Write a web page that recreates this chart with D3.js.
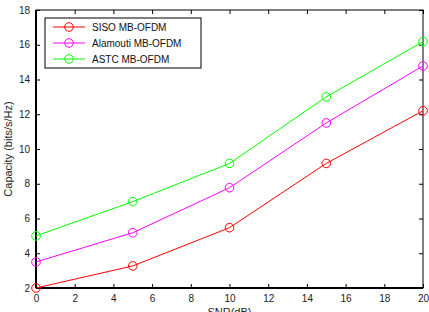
<!DOCTYPE html>
<html>
<head>
<script src="https://d3js.org/d3.v7.min.js"></script>
<style>
  body { margin: 0; background: #fff; }
  svg text { font-family: "Liberation Sans", Arial, sans-serif; }
</style>
</head>
<body>
<svg id="chart" width="429" height="312"></svg>
<script>
const snr = [0, 5, 10, 15, 20];
const sisoCap = [2.0, 3.27, 5.47, 9.17, 12.2];
const alamoutiCap = [3.5, 5.18, 7.77, 11.5, 14.78];
const astcCap = [5.0, 6.97, 9.17, 13.0, 16.18];
const seriesNames = ["SISO MB-OFDM", "Alamouti MB-OFDM", "ASTC MB-OFDM"];
const seriesColors = ["#ff0000", "#ff00ff", "#00ff00"];
const xTicks = [0, 2, 4, 6, 8, 10, 12, 14, 16, 18, 20];
const yTicks = [2, 4, 6, 8, 10, 12, 14, 16, 18];

const svg = d3.select("#chart");
const margin = { top: 10, right: 6, bottom: 24, left: 36 };
const width = 429 - margin.left - margin.right;
const height = 312 - margin.top - margin.bottom;

const x = d3.scaleLinear().domain([0, 20]).range([0, width]);
const y = d3.scaleLinear().domain([2, 18]).range([height, 0]);

const g = svg.append("g").attr("transform", `translate(${margin.left},${margin.top})`);

// axes with inward ticks on all four sides
const axisStyle = sel => {
    sel.select(".domain").remove();
    sel.selectAll("text").attr("font-size", 10).attr("fill", "#222");
    sel.selectAll("line").attr("stroke", "#000");
};
g.append("g").attr("transform", `translate(0,${height})`)
    .call(d3.axisBottom(x).tickValues(xTicks).tickSizeInner(-4).tickSizeOuter(0).tickPadding(7))
    .call(axisStyle);
g.append("g")
    .call(d3.axisLeft(y).tickValues(yTicks).tickSizeInner(-4).tickSizeOuter(0).tickPadding(6))
    .call(axisStyle);
g.append("g")
    .call(d3.axisTop(x).tickValues(xTicks).tickSizeInner(-4).tickSizeOuter(0).tickFormat(""))
    .call(axisStyle);
g.append("g").attr("transform", `translate(${width},0)`)
    .call(d3.axisRight(y).tickValues(yTicks).tickSizeInner(-4).tickSizeOuter(0).tickFormat(""))
    .call(axisStyle);

g.append("rect").attr("width", width).attr("height", height)
    .attr("fill", "none").attr("stroke", "#000").attr("stroke-width", 1);
g.append("line").attr("x1", 0).attr("x2", 0).attr("y1", 0).attr("y2", height)
    .attr("stroke", "#000").attr("stroke-width", 2);
g.append("line").attr("x1", 0).attr("x2", width).attr("y1", height).attr("y2", height)
    .attr("stroke", "#000").attr("stroke-width", 2);

const allSeries = [sisoCap, alamoutiCap, astcCap];
const line = d3.line().x((d, i) => x(snr[i])).y(d => y(d));

allSeries.forEach((vals, k) => {
    g.append("path").datum(vals)
        .attr("d", line)
        .attr("fill", "none")
        .attr("stroke", seriesColors[k])
        .attr("stroke-width", 1);
    g.selectAll(".m" + k).data(vals).enter().append("circle")
        .attr("cx", (d, i) => x(snr[i]))
        .attr("cy", d => y(d))
        .attr("r", 4.3)
        .attr("fill", "none")
        .attr("stroke", seriesColors[k])
        .attr("stroke-width", 1);
});

// legend
const leg = g.append("g").attr("transform", "translate(9,8)");
leg.append("rect").attr("width", 156).attr("height", 50)
    .attr("fill", "#fff").attr("stroke", "#000").attr("stroke-width", 1);
seriesNames.forEach((name, k) => {
    const ly = 9 + k * 16;
    leg.append("line").attr("x1", 8).attr("x2", 40).attr("y1", ly).attr("y2", ly)
        .attr("stroke", seriesColors[k]).attr("stroke-width", 1);
    leg.append("circle").attr("cx", 24).attr("cy", ly).attr("r", 4.3)
        .attr("fill", "none").attr("stroke", seriesColors[k]);
    leg.append("text").attr("x", 47).attr("y", ly + 3.5)
        .attr("font-size", 10).attr("fill", "#111").text(name);
});

// axis labels
svg.append("text")
    .attr("x", margin.left + width / 2).attr("y", 316)
    .attr("text-anchor", "middle").attr("font-size", 11).attr("fill", "#222")
    .text("SNR(dB)");
svg.append("text")
    .attr("transform", `translate(12,${margin.top + height / 2}) rotate(-90)`)
    .attr("text-anchor", "middle").attr("font-size", 11).attr("fill", "#222")
    .text("Capacity (bits/s/Hz)");
</script>
</body>
</html>
